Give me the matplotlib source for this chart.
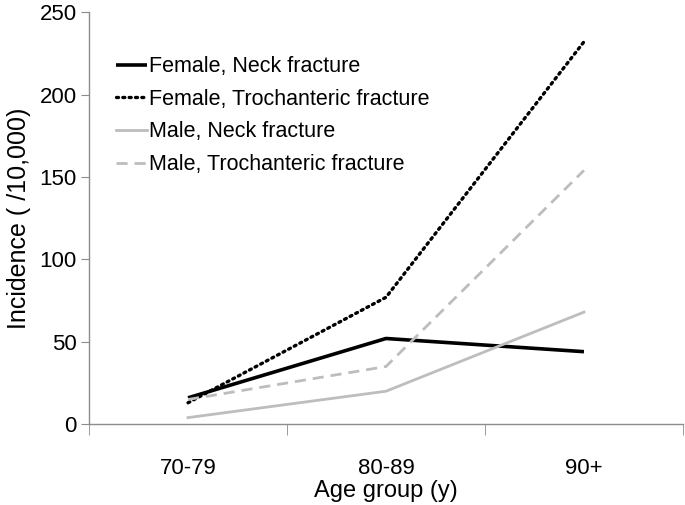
import matplotlib
matplotlib.use("Agg")
import matplotlib.pyplot as plt

age_groups = ["70-79", "80-89", "90+"]
female_neck = [16, 52, 44]
female_troch = [13, 77, 232]
male_neck = [4, 20, 68]
male_troch = [15, 35, 154]

plt.rcParams["font.family"] = ["Liberation Sans", "DejaVu Sans"]

fig = plt.figure(figsize=(6.85, 5.05), dpi=100)
ax = fig.add_axes([0.130, 0.160, 0.867, 0.816])

x = range(len(age_groups))
ax.plot(x, female_neck, color="black", lw=2.6, solid_capstyle="butt",
        label="Female, Neck fracture")
ax.plot(x, female_troch, color="black", lw=2.4, linestyle=(0, (0.6, 1.3)),
        dash_capstyle="round", label="Female, Trochanteric fracture")
ax.plot(x, male_neck, color="#bdbdbd", lw=2.0, label="Male, Neck fracture")
ax.plot(x, male_troch, color="#bdbdbd", lw=2.0, linestyle=(0, (4, 2.5)),
        label="Male, Trochanteric fracture")

ax.set_xlim(-0.5, 2.5)
ax.set_ylim(0, 250)
ax.set_yticks([0, 50, 100, 150, 200, 250])
ax.set_xticks([0, 1, 2])
ax.set_xticklabels(age_groups)
ax.set_xticks([-0.5, 0.5, 1.5, 2.5], minor=True)

for s in ["top", "right"]:
    ax.spines[s].set_visible(False)
for s in ["left", "bottom"]:
    ax.spines[s].set_color("#8c8c8c")
    ax.spines[s].set_linewidth(1.0)

ax.tick_params(axis="y", direction="out", length=6, color="#8c8c8c", pad=3,
               labelsize=16)
ax.tick_params(axis="x", which="major", length=0, pad=24, labelsize=16)
ax.tick_params(axis="x", which="minor", direction="out", length=8,
               color="#8c8c8c")

ax.set_xlabel("Age group (y)", fontsize=17, va="center")
ax.xaxis.set_label_coords(0.5, -0.163)
ax.set_ylabel("Incidence ( /10,000)", fontsize=18, labelpad=6)

leg = ax.legend(loc="upper left", bbox_to_anchor=(0.046, 0.893), frameon=False,
                fontsize=15.5, handlelength=1.4, handletextpad=0.1,
                labelspacing=0.54, borderaxespad=0, borderpad=0)

fig.savefig("out.png", dpi=100)
